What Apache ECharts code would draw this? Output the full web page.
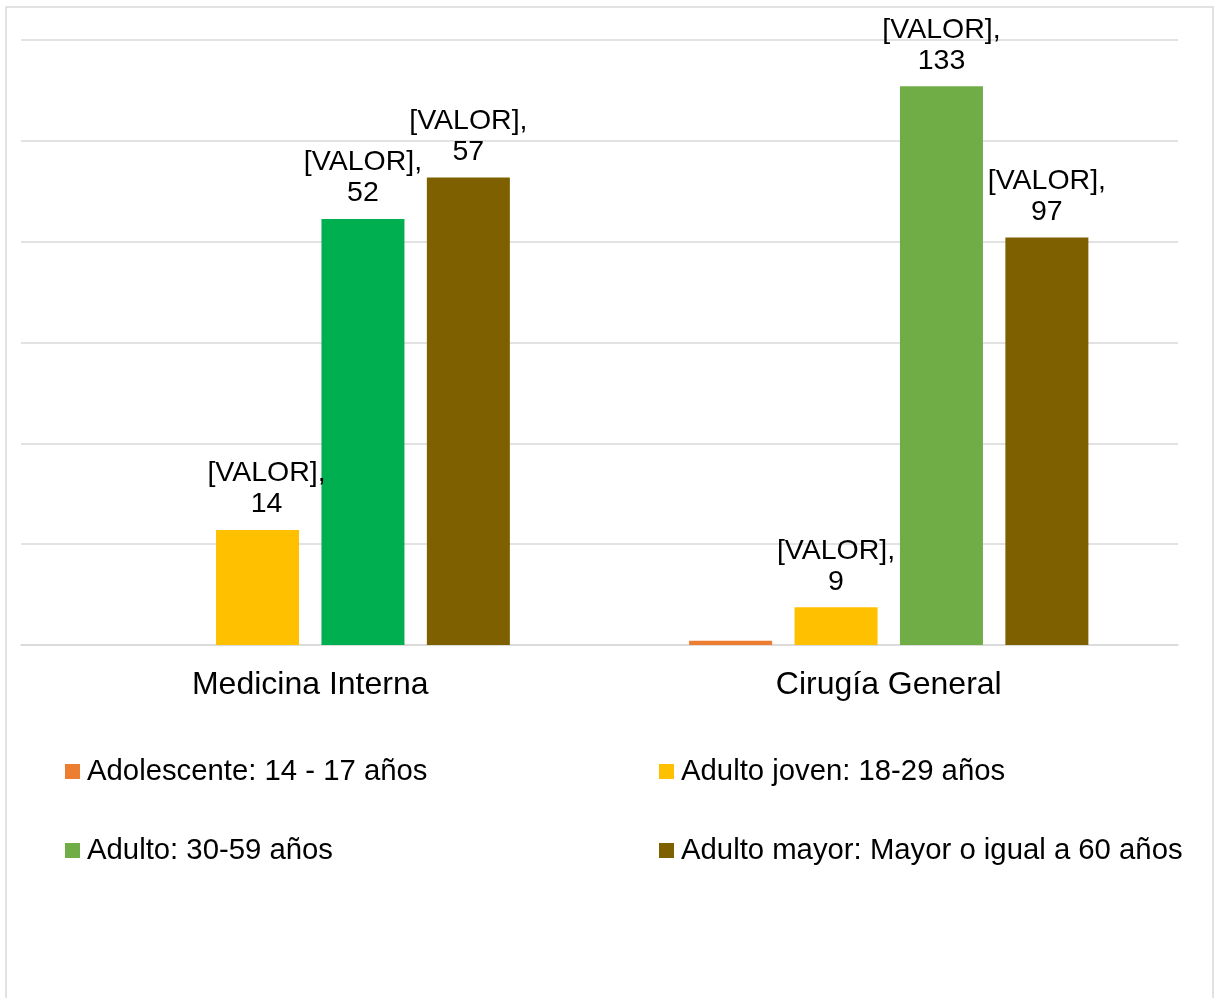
<!DOCTYPE html>
<html><head><meta charset="utf-8">
<script src="https://cdn.jsdelivr.net/npm/echarts@6/dist/echarts.min.js"></script>
<style>html,body{margin:0;padding:0;background:#fff}#chart{width:1214px;height:998px}</style>
</head><body><div id="chart"></div>
<script>
// Categories and series names
const categories = ['Medicina Interna', 'Cirugía General'];
const seriesNames = ['Adolescente: 14 - 17 años', 'Adulto joven: 18-29 años', 'Adulto: 30-59 años', 'Adulto mayor: Mayor o igual a 60 años'];

// Bar heights as drawn in the picture
const adolescente = [null, 1];
const adultoJoven = [27.4, 9];
const adulto = [101.4, 133];
const adultoMayor = [111.3, 97];

// Data-label numbers as printed in the picture
const adolescenteLabels = [null, null];
const adultoJovenLabels = [14, 9];
const adultoLabels = [52, 133];
const adultoMayorLabels = [57, 97];

// Value axis (hidden labels, gridlines only)
const yMin = 0, yMax = 144, yInterval = 24;

const FONT = "'Liberation Sans', Arial, sans-serif";
const colors = ['#ED7D31', '#FFC000', '#70AD47', '#7F6000'];
const valuesList = [adolescente, adultoJoven, adulto, adultoMayor];
const labelsList = [adolescenteLabels, adultoJovenLabels, adultoLabels, adultoMayorLabels];

const chart = echarts.init(document.getElementById('chart'), null, {renderer: 'canvas'});

const series = valuesList.map((vals, i) => ({
  name: seriesNames[i],
  type: 'bar',
  barWidth: 83,
  barGap: '27%',
  itemStyle: {color: colors[i]},
  data: vals.map((v, j) => {
    if (i === 2 && j === 0) return {value: v, itemStyle: {color: '#00B050'}};
    if (i === 1 && j === 0) return {value: v, label: {offset: [9, 0]}};
    return v;
  }),
  label: {
    show: true,
    position: 'top',
    distance: 10,
    fontFamily: FONT,
    fontSize: 28.5,
    lineHeight: 31,
    color: '#000',
    align: 'center',
    formatter: (p) => {
      const lv = labelsList[p.seriesIndex][p.dataIndex];
      return lv == null ? '' : '[VALOR],\n' + lv;
    }
  },
  animation: false
}));

const legendPos = [
  {left: 65, top: 757},
  {left: 659, top: 757},
  {left: 65, top: 836},
  {left: 659, top: 836}
];
const legends = seriesNames.map((n, i) => ({
  data: [n],
  left: legendPos[i].left,
  top: legendPos[i].top,
  padding: 0,
  icon: 'rect',
  itemWidth: 15,
  itemHeight: 15,
  selectedMode: false,
  textStyle: {fontFamily: FONT, fontSize: 29.3, lineHeight: 29, color: '#000', padding: [0, 0, 0, 2]}
}));

chart.setOption({
  animation: false,
  backgroundColor: '#fff',
  graphic: [{
    type: 'rect',
    shape: {x: 6, y: 7, width: 1207, height: 1010},
    style: {fill: 'none', stroke: '#D9D9D9', lineWidth: 1.5},
    silent: true,
    z: -10
  }],
  grid: {left: 21, right: 36, top: 40, bottom: 353},
  legend: legends,
  xAxis: {
    type: 'category',
    data: categories,
    axisLine: {lineStyle: {color: '#D9D9D9', width: 1.5}},
    axisTick: {show: false},
    axisLabel: {fontFamily: FONT, fontSize: 32, color: '#000', margin: 24}
  },
  yAxis: {
    type: 'value',
    min: yMin, max: yMax, interval: yInterval,
    axisLabel: {show: false},
    axisLine: {show: false},
    axisTick: {show: false},
    splitLine: {lineStyle: {color: '#D9D9D9', width: 1.5}}
  },
  series: series
});
</script>
</body></html>
